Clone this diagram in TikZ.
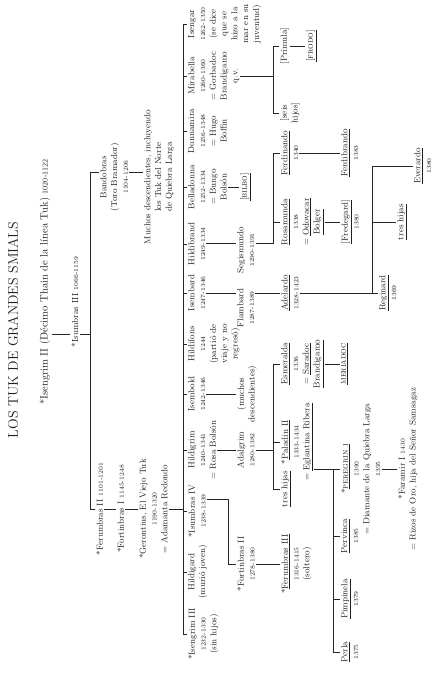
\documentclass[tikz,border=0pt]{standalone}
\newcommand\nm{\fontsize{8.8}{10.8}\selectfont}
\newcommand\dt{\fontsize{6.3}{8}\selectfont}
\newcommand\hd{\fontsize{10.6}{12}\selectfont}
\newcommand\hdt{\fontsize{7.6}{9}\selectfont}
\newcommand\ttl{\fontsize{14}{16}\selectfont}
\begin{document}
\begin{tikzpicture}[x=1pt,y=1pt,
  every node/.style={inner sep=1pt, align=center, font=\nm, text=black!88, rotate=90},
  p/.style={anchor=north},
  ln/.style={line width=0.6pt, draw=black!85}]
\useasboundingbox[fill=white] (0,0) rectangle (444,674);
% canvas point (Y, X): Y = depth in the (rotated) tree, X = position along a generation
% ---------- helper positions along a generation ----------
\coordinate (c340) at (0,340);
\coordinate (c175) at (0,175);
\coordinate (c381) at (0,381);
\coordinate (c431) at (0,431);
\coordinate (c502) at (0,502);
% ---------- bar levels ----------
\coordinate (b1) at (90,0);
\coordinate (b2) at (183,0);
\coordinate (b3) at (228,0);
\coordinate (b4) at (273,0);
\coordinate (b5) at (273,0);
\coordinate (b6) at (273,0);
\coordinate (b7) at (333,0);
\coordinate (b8) at (372,0);
% ---------- top ----------
\node[font=\ttl] (title) at (13,344) {LOS TUK DE GRANDES SMIALS};
\node[font=\hd] (isg2) at (45,392) {*Isengrim II (Décimo Thain de la línea Tuk) {\hdt 1020-1122}};
\node (isu3) at (75,372) {*Isumbras III {\dt 1066-1159}};
\node[p] (fer2) at (95,165) {*Ferumbras II {\dt 1101-1201}};
\node[p] (band) at (99,497) {Bandobras\\(Toro Bramador)\\{\dt 1104-1206}};
\node[p] (fort1) at (116,165) {*Fortinbras I {\dt 1145-1248}};
\node[p] (gero) at (138,165) {*Gerontius, El Viejo Tuk\\{\dt 1190-1320}\\= Adamanta Redondo};
\node[p] (much) at (143,497) {Muchos descendientes, incluyendo\\los Tuk del Norte\\de Quiebra Larga};
% ---------- children of Gerontius ----------
\node[p] (isg3) at (187,40) {*Isengrim III\\{\dt 1232-1330}\\(sin hijos)};
\node[p] (hldg) at (187,102) {Hildigard\\(murió joven)};
\node[p] (isu4) at (187,163) {*Isumbras IV\\{\dt 1238-1339}};
\node[p] (hlgr) at (187,224) {Hildigrim\\{\dt 1240-1341}\\= Rosa Bolsón};
\node[p] (isbo) at (187,280) {Isembold\\{\dt 1242-1346}};
\node[p] (hlfo) at (187,330) {Hildifons\\{\dt 1244}\\(partió de\\viaje y no\\regresó)};
\node[p] (isba) at (187,381) {Isembard\\{\dt 1247-1346}};
\node[p] (hlbr) at (187,430) {Hildibrand\\{\dt 1249-1334}};
\node[p] (bell) at (187,487) {Belladonna\\{\dt 1252-1334}\\= Bungo\\Bolsón};
\node[p] (donn) at (187,543) {Donnamira\\{\dt 1256-1348}\\= Hugo\\Boffin};
\node[p] (mira) at (187,598) {Mirabella\\{\dt 1260-1360}\\= Gorbadoc\\Brandigamo\\q.v.};
\node[p] (iseg) at (187,650) {Isengar\\{\dt 1262-1350}\\(se dice\\que se\\hizo a la\\mar en su\\juventud)};
% ---------- grandchildren ----------
\node[p] (fort2) at (236,110) {*Fortinbras II\\{\dt 1278-1380}};
\node[p] (adal) at (236,224) {Adalgrim\\{\dt 1280-1382}};
\node[p] (much2) at (236,280) {(muchos\\descendientes)};
\node[p] (flam) at (236,366) {Flambard\\{\dt 1287-1389}};
\node[p] (segi) at (236,424) {Segismundo\\{\dt 1290-1391}};
\node[p] (bilbo) at (239,487) {\underline{[\textsc{bilbo}]}};
\node[p] (seis) at (279,561) {[seis\\hijos]};
\node[p] (prim) at (279,628) {[Prímula]};
\node[p] (frodo) at (305,628) {\underline{[\textsc{frodo}]}};
% ---------- next generation ----------
\node[p] (fer3) at (280,110) {*\underline{Ferumbras III}\\{\dt 1316-1415}\\(soltero)};
\node[p] (tres1) at (280,185) {\underline{tres hijas}};
\node[p] (pala) at (280,232) {*\underline{Paladin II}\\{\dt 1333-1434}\\= \underline{Eglantina Ribera}};
\node[p] (esme) at (280,310) {\underline{Esmeralda}\\{\dt 1336}\\= \underline{Saradoc}\\\underline{Brandigamo}};
\node[p] (adel) at (280,381) {\underline{Adelardo}\\{\dt 1328-1423}};
\node[p] (rosa) at (280,452) {\underline{Rosamunda}\\{\dt 1338}\\= \underline{Odovacar}\\\underline{Bolger}};
\node[p] (ferd) at (280,521) {\underline{Ferdinando}\\{\dt 1340}};
% ---------- lower ----------
\node[p] (perla) at (340,22) {\underline{Perla}\\{\dt 1375}};
\node[p] (pimp) at (340,75) {\underline{Pimpinela}\\{\dt 1379}};
\node[p] (perv) at (340,138) {\underline{Pervinca}\\{\dt 1385}};
\node[p] (pere) at (340,205) {*\underline{\textsc{peregrin i}}\\{\dt 1390}\\= Diamante de la Quiebra Larga\\{\dt 1395}};
\node[p] (meri) at (340,310) {\underline{\textsc{meriadoc}}};
\node[p] (fred) at (340,452) {\underline{[Fredegard]}\\{\dt 1380}};
\node[p] (fdbr) at (340,521) {\underline{Ferdibrando}\\{\dt 1383}};
\node[p] (fara) at (397,205) {*Faramir I {\dt 1430}\\= Rizos de Oro, hija del Señor Samsagaz};
\node[p] (regi) at (378,381) {\underline{Reginard}\\{\dt 1369}};
\node[p] (tres2) at (396,452) {\underline{tres hijas}};
\node[p] (ever) at (413,508) {\underline{Everardo}\\{\dt 1380}};
% ---------- connectors ----------
\draw[ln] (isg2.south |- c340) -- (isu3.north |- c340);
\draw[ln] (isu3.south |- c340) -- (b1 |- c340);
\draw[ln] (fer2.north) -- (b1 |- fer2.north) -- (b1 |- c502) -- (band.north |- c502);
\draw[ln] (band.south |- c502) -- (much.north |- c502);
\draw[ln] (fer2.south) -- (fort1.north);
\draw[ln] (fort1.south) -- (gero.north);
\draw[ln] (gero.south) -- (b2 |- gero.south);
\draw[ln] (b2 |- isg3.north) -- (b2 |- iseg.north);
\foreach \c in {isg3,hldg,isu4,hlgr,isbo,hlfo,isba,hlbr,bell,donn,mira,iseg}
  \draw[ln] (b2 |- \c.north) -- (\c.north);
\draw[ln] (isu4.south |- c175) -- (b3 |- c175) -- (b3 |- fort2.north) -- (fort2.north);
\draw[ln] (fort2.south) -- (fer3.north);
\draw[ln] (hlgr.south) -- (adal.north);
\draw[ln] (isbo.south) -- (much2.north);
\draw[ln] (isba.south |- c381) -- (flam.north |- c381);
\draw[ln] (hlbr.south |- c431) -- (segi.north |- c431);
\draw[ln] (bell.south) -- (bilbo.north);
% Adalgrim's children
\draw[ln] (adal.south) -- (b4 |- adal.south);
\draw[ln] (b4 |- tres1.north) -- (b4 |- esme.north);
\foreach \c in {tres1,pala,esme} \draw[ln] (b4 |- \c.north) -- (\c.north);
% Flambard
\draw[ln] (flam.south |- c381) -- (adel.north);
% Segismundo's children
\draw[ln] (segi.south |- c431) -- (b5 |- c431) -- (b5 |- ferd.north);
\foreach \c in {rosa,ferd} \draw[ln] (b5 |- \c.north) -- (\c.north);
% Mirabella's children
\draw[ln] (mira.south) -- (b6 |- mira.south);
\draw[ln] (b6 |- seis.north) -- (b6 |- prim.north);
\foreach \c in {seis,prim} \draw[ln] (b6 |- \c.north) -- (\c.north);
\draw[ln] (prim.south) -- (frodo.north);
% Paladin's children
\draw[ln] (pala.south |- pere.north) -- (b7 |- pere.north);
\draw[ln] (b7 |- perla.north) -- (b7 |- pere.north);
\foreach \c in {perla,pimp,perv,pere} \draw[ln] (b7 |- \c.north) -- (\c.north);
\draw[ln] (pere.south) -- (fara.north);
\draw[ln] (esme.south) -- (meri.north);
\draw[ln] (rosa.south) -- (fred.north);
\draw[ln] (ferd.south) -- (fdbr.north);
% Adelardo's children
\draw[ln] (adel.south) -- (b8 |- adel.south);
\draw[ln] (b8 |- regi.north) -- (b8 |- ever.north);
\foreach \c in {regi,tres2,ever} \draw[ln] (b8 |- \c.north) -- (\c.north);
\end{tikzpicture}
\end{document}
